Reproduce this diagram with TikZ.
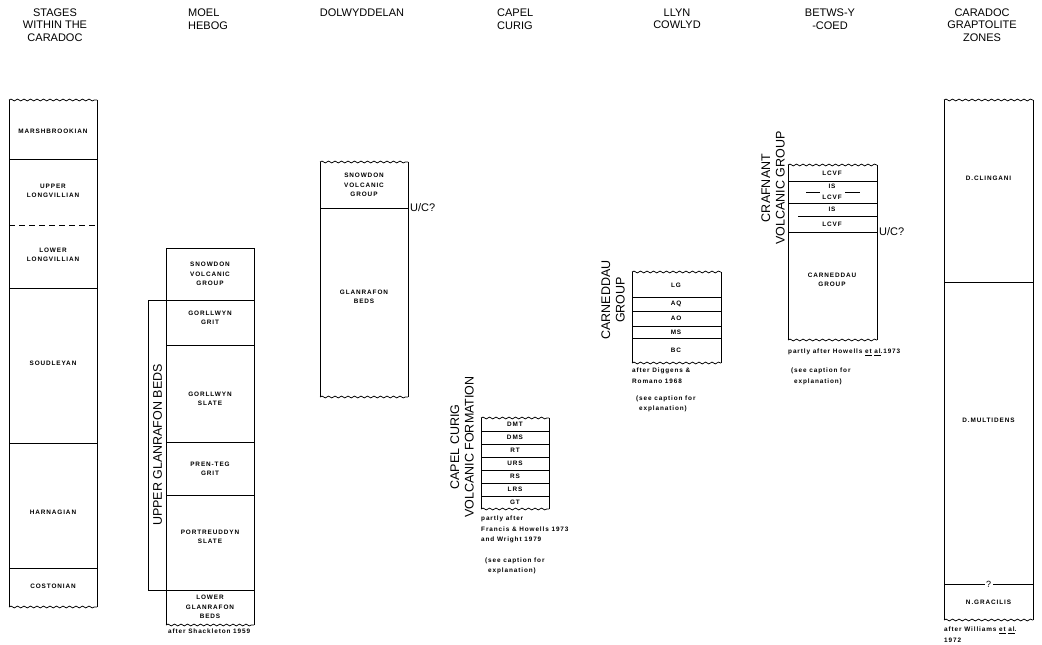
\documentclass[tikz,border=0pt]{standalone}
\usepackage{fontspec}
\setmainfont{Liberation Sans}
\newfontfamily\letterfam[LetterSpace=14]{Liberation Sans}
\usetikzlibrary{positioning,decorations.pathmorphing}
\tikzset{
  head/.style={font=\fontsize{11}{12.5}\selectfont,align=center,inner sep=0pt},
  sidehead/.style={head,font=\fontsize{12.5}{14.5}\selectfont,rotate=90},
  unit/.style={font=\letterfam\bfseries\fontsize{6.4}{9.5}\selectfont,align=center,inner sep=0pt},
  note/.style={font=\letterfam\bfseries\fontsize{6.4}{10.5}\selectfont,align=left,anchor=north west,inner sep=0pt},
  edge/.style={line width=0.75pt},
  wavy/.style={edge,decorate,decoration={snake,segment length=6.5pt,amplitude=0.9pt}},
  query/.style={font=\fontsize{11}{12}\selectfont,anchor=west,inner sep=1pt}
}
\begin{document}
\begin{tikzpicture}[x=1pt,y=-1pt]
\fill[white] (0,0) rectangle (1042,645);
\useasboundingbox (0,0) rectangle (1042,645);

\node[head] (hstages) at (55,25) {STAGES\\WITHIN THE\\CARADOC};
\node[head,align=left,anchor=west] (hmoel) at (188,19) {MOEL\\HEBOG};
\node[head] (hdolwy) at (362,13) {DOLWYDDELAN};
\node[head,align=left,anchor=west] (hcapel) at (497,19) {CAPEL\\CURIG};
\node[head] (hllyn) at (677,19) {LLYN\\COWLYD};
\node[head] (hbetws) at (830,19) {BETWS-Y\\-COED};
\node[head] (hzones) at (982,25) {CARADOC\\GRAPTOLITE\\ZONES};

\draw[edge] (9,100) -- (9,607) (97,100) -- (97,607);
\draw[wavy] (9,100) -- (97,100);
\draw[wavy] (9,607) -- (97,607);
\draw[edge] (9,159) -- (97,159) (9,288) -- (97,288) (9,443) -- (97,443) (9,568) -- (97,568);
\draw[edge,dash pattern=on 6pt off 4pt] (9,225) -- (97,225);
\node[unit] (marsh) at (53,131) {MARSHBROOKIAN};
\node[unit] (ulong) at (53,191) {UPPER\\LONGVILLIAN};
\node[unit] (llong) at (53,255) {LOWER\\LONGVILLIAN};
\node[unit] (soud) at (53,363) {SOUDLEYAN};
\node[unit] (harn) at (53,512) {HARNAGIAN};
\node[unit] (cost) at (53,586) {COSTONIAN};

\draw[edge] (166,625) -- (166,248) -- (254,248) -- (254,625);
\draw[wavy] (166,625) -- (254,625);
\draw[edge] (166,300) -- (254,300) (166,345) -- (254,345) (166,442) -- (254,442)
  (166,495) -- (254,495) (166,590) -- (254,590);
\draw[edge] (166,300) -- (148,300) -- (148,590) -- (166,590);
\node[sidehead] (ugbeds) at (157.5,445) {UPPER GLANRAFON BEDS};
\node[unit] (msvg) at (210,274) {SNOWDON\\VOLCANIC\\GROUP};
\node[unit] (mgrit) at (210,318) {GORLLWYN\\GRIT};
\node[unit] (mslate) at (210,399) {GORLLWYN\\SLATE};
\node[unit] (pteg) at (210,469) {PREN-TEG\\GRIT};
\node[unit] (portr) at (210,537) {PORTREUDDYN\\SLATE};
\node[unit] (lgbeds) at (210,607) {LOWER\\GLANRAFON\\BEDS};
\node[note] (shack) at (168,629) {after Shackleton 1959};

\draw[edge] (320,162) -- (320,397) (408,162) -- (408,397);
\draw[wavy] (320,162) -- (408,162);
\draw[wavy] (320,397) -- (408,397);
\draw[edge] (320,208) -- (408,208);
\node[unit] (dsvg) at (364,185) {SNOWDON\\VOLCANIC\\GROUP};
\node[unit] (dgb) at (364,297) {GLANRAFON\\BEDS};
\node[query] (duc) at (409,208) {U/C?};

\draw[edge] (481,418) -- (481,509) (549,418) -- (549,509);
\draw[wavy] (481,418) -- (549,418);
\draw[wavy] (481,509) -- (549,509);
\draw[edge] (481,431) -- (549,431) (481,444) -- (549,444) (481,457) -- (549,457)
  (481,470) -- (549,470) (481,483) -- (549,483) (481,496) -- (549,496);
\node[unit] (dmt) at (515,424.5) {DMT};
\node[unit] (dms) at (515,437.5) {DMS};
\node[unit] (rt) at (515,450.5) {RT};
\node[unit] (urs) at (515,463.5) {URS};
\node[unit] (rs) at (515,476.5) {RS};
\node[unit] (lrs) at (515,489.5) {LRS};
\node[unit] (gt) at (515,502.5) {GT};
\node[sidehead] (ccvf) at (462,447) {CAPEL CURIG\\VOLCANIC FORMATION};
\node[note] (capnote) at (481,516) {partly after\\Francis \& Howells 1973\\and Wright 1979};
\node[note,below=14pt of capnote.south west,anchor=north west,xshift=4pt] (capsee) {(see caption for\\\hspace{3pt}explanation)};

\draw[edge] (632,272) -- (632,363) (721,272) -- (721,363);
\draw[wavy] (632,272) -- (721,272);
\draw[wavy] (632,363) -- (721,363);
\draw[edge] (632,297) -- (721,297) (632,311) -- (721,311) (632,326) -- (721,326) (632,338) -- (721,338);
\node[unit] (lg) at (676,285) {LG};
\node[unit] (aq) at (676,304) {AQ};
\node[unit] (ao) at (676,318.5) {AO};
\node[unit] (ms) at (676,332) {MS};
\node[unit] (bc) at (676,350.5) {BC};
\node[sidehead] (cgllyn) at (613,300) {CARNEDDAU\\GROUP};
\node[note] (llynnote) at (632,368) {after Diggens \&\\Romano 1968};
\node[note,below=12pt of llynnote.south west,anchor=north west,xshift=4pt] (llynsee) {(see caption for\\\hspace{3pt}explanation)};

\draw[edge] (788,165) -- (788,340) (877,165) -- (877,340);
\draw[wavy] (788,165) -- (877,165);
\draw[wavy] (788,340) -- (877,340);
\draw[edge] (788,181) -- (877,181) (806,192) -- (820,192) (845,192) -- (860,192)
  (788,203) -- (877,203) (798,216) -- (877,216) (788,232) -- (877,232);
\node[unit] (lcvfa) at (832,173) {LCVF};
\node[unit] (isa) at (832,186.5) {IS};
\node[unit] (lcvfb) at (832,197.5) {LCVF};
\node[unit] (isb) at (832,209.5) {IS};
\node[unit] (lcvfc) at (832,224) {LCVF};
\node[unit] (bcg) at (832,280) {CARNEDDAU\\GROUP};
\node[query] (buc) at (878,232) {U/C?};
\node[sidehead] (crafnant) at (773,188) {CRAFNANT\\VOLCANIC GROUP};
\node[note] (betnote) at (788,349) {partly after Howells \underline{et} \underline{al}.1973};
\node[note,below=12pt of betnote.south west,anchor=north west,xshift=3pt] (betsee) {(see caption for\\\hspace{3pt}explanation)};

\draw[edge] (944,100) -- (944,620) (1033,100) -- (1033,620);
\draw[wavy] (944,100) -- (1033,100);
\draw[wavy] (944,620) -- (1033,620);
\draw[edge] (944,282) -- (1033,282) (944,584) -- (1033,584);
\node[font=\fontsize{9}{10}\selectfont,fill=white,inner sep=1.5pt] (qzone) at (988.5,584) {?};
\node[unit] (cling) at (988.5,178) {D.CLINGANI};
\node[unit] (multi) at (988.5,420) {D.MULTIDENS};
\node[unit] (grac) at (988.5,602) {N.GRACILIS};
\node[note] (willnote) at (944,627) {after Williams \underline{et} \underline{al}.\\1972};
\end{tikzpicture}
\end{document}
